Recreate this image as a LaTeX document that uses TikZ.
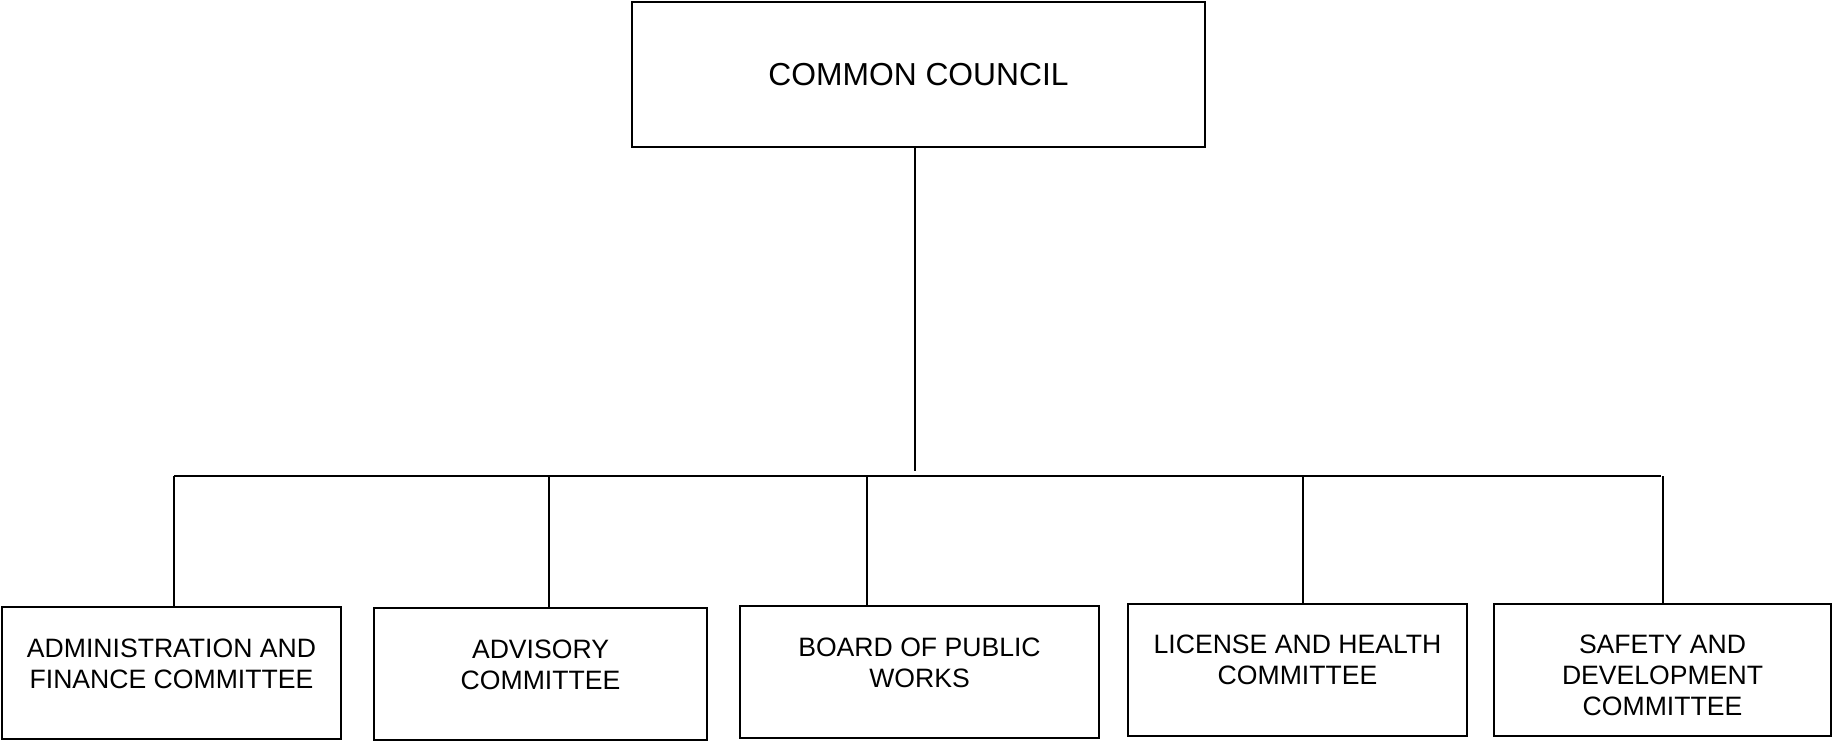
\documentclass[tikz,border=0pt]{standalone}
\usepackage{fontspec}
\setmainfont{Liberation Sans}
\begin{document}
\begin{tikzpicture}[x=0.5pt, y=-0.5pt, line width=1pt]
        \tikzstyle{box}=[draw, rectangle, inner sep=0pt, minimum height=66pt]
        \tikzstyle{lbl}=[align=center, inner sep=0pt, font=\fontsize{13.3}{15.5}\selectfont]
        \useasboundingbox (0,0) rectangle (1833,741);
        \node [box, minimum width=286.5pt, minimum height=72.5pt, font=\fontsize{15.9}{19}\selectfont] (council) at (918.5,74.5) {COMMON COUNCIL};
        % committees
        \node [box, minimum width=169.5pt] (admin) at (171.5,673) {};
        \node [box, minimum width=166.5pt] (advis) at (540.5,674) {};
        \node [box, minimum width=179.5pt] (board) at (919.5,672) {};
        \node [box, minimum width=169.5pt] (license) at (1297.5,669.5) {};
        \node [box, minimum width=168.5pt] (safety) at (1662.5,669.5) {};
        \node [lbl] (admin-t) at ([yshift=-28.75pt]admin.north) {ADMINISTRATION AND\\FINANCE COMMITTEE};
        \node [lbl] (advis-t) at ([yshift=-28.75pt]advis.north) {ADVISORY\\COMMITTEE};
        \node [lbl] (board-t) at ([yshift=-28.75pt]board.north) {BOARD OF PUBLIC\\WORKS};
        \node [lbl] (license-t) at ([yshift=-28.75pt]license.north) {LICENSE AND HEALTH\\COMMITTEE};
        \node [lbl] (safety-t) at ([yshift=-36.5pt]safety.north) {SAFETY AND\\DEVELOPMENT\\COMMITTEE};
        % lines
        \coordinate (top) at (915,471);
        \coordinate (busL) at (174,476);
        \coordinate (busR) at (1661,476);
        \draw (top |- council.south) -- (top);
        \draw (busL) -- (busR);
        \foreach \n/\x in {admin/174, advis/549, board/867, license/1303, safety/1663}
            \draw (\x,476) -- (\x,0 |- \n.north);
\end{tikzpicture}
\end{document}
